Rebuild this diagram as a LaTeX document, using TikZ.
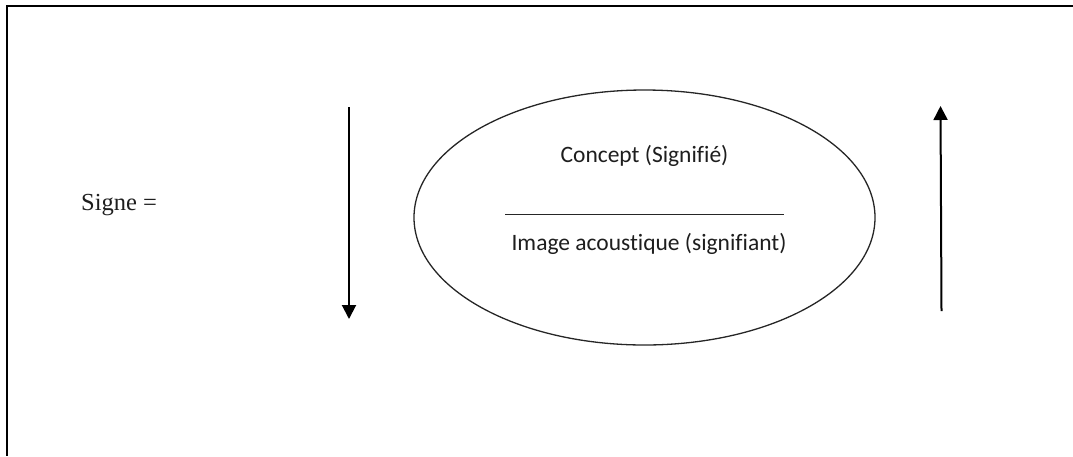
\documentclass[tikz,border=0pt]{standalone}
\usepackage{fontspec}
\setmainfont{Liberation Serif}
\newfontfamily\calfont[RawFeature={-liga;-clig;-dlig}]{Carlito}
\usetikzlibrary{arrows.meta,shapes.geometric}
\definecolor{txtgray}{HTML}{1E1E1E}
\begin{document}
\begin{tikzpicture}[x=1pt,y=-1pt,
  frameline/.style={line width=2pt,black},
  signarrow/.style={line width=2pt,black,-{Triangle[width=14pt,length=14pt]}},
  ovalbox/.style={draw=black!85,line width=1.3pt,ellipse,minimum width=461pt,minimum height=255pt,inner sep=0pt},
  inlabel/.style={font=\calfont\fontsize{23.5}{28}\selectfont,text=txtgray,anchor=base,inner sep=0pt},
  lefttext/.style={font=\fontsize{24.5}{29}\selectfont,text=txtgray,anchor=base west,inner sep=0pt}]
\useasboundingbox (0,0) rectangle (1073,456);
% frame
\coordinate (ftr) at (1073,6);
\coordinate (ftl) at (7,6);
\coordinate (fbl) at (7,456);
\draw[frameline] (ftr) -- (ftl) -- (fbl);
% left text
\node[lefttext] (signe) at (81,210) {Signe =};
% ellipse
\node[ovalbox] (oval) at (644.5,217.5) {};
\node[inlabel] (concept) at (644.5,162) {Concept (Signifié)};
\coordinate (barL) at (505,214.5);
\coordinate (barR) at (784,214.5);
\draw[line width=1.4pt,black!85] (barL) -- (barR);
\node[inlabel] (image) at (649,250) {Image acoustique (signifiant)};
% arrows
\coordinate (dtop) at (349,107);
\coordinate (dbot) at (349,319);
\draw[signarrow] (dtop) -- (dbot);
\coordinate (ubot) at (941.5,311);
\coordinate (utop) at (940.5,106);
\draw[signarrow] (ubot) -- (utop);
\end{tikzpicture}
\end{document}
